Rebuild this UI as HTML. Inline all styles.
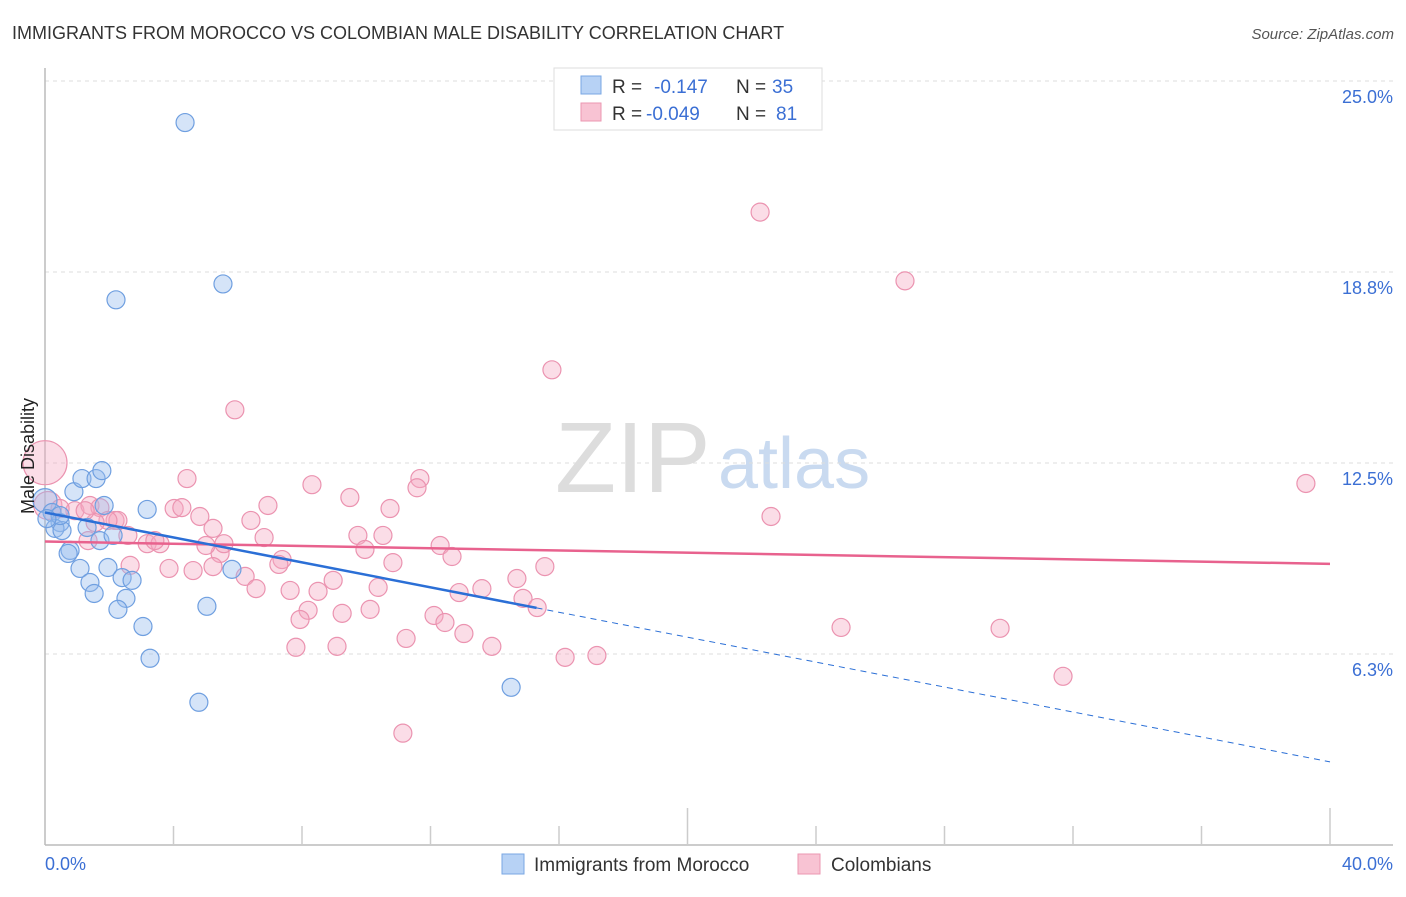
<!DOCTYPE html>
<html><head><meta charset="utf-8"><style>
body{margin:0;background:#fff;font-family:"Liberation Sans",sans-serif;}
svg text{font-family:"Liberation Sans",sans-serif;}
</style></head><body>
<svg id="chart" width="1406" height="892" viewBox="0 0 1406 892">
<text x="12" y="39" font-size="18" fill="#333">IMMIGRANTS FROM MOROCCO VS COLOMBIAN MALE DISABILITY CORRELATION CHART</text>
<text x="1394" y="39" font-size="15" fill="#555" font-style="italic" text-anchor="end">Source: ZipAtlas.com</text>
<text x="555" y="492" font-size="100" fill="#ddd" font-family="Liberation Serif">ZIP</text>
<text x="718" y="488" font-size="72" fill="#c9daf0">atlas</text>
<g id="grid"></g><g id="axes"></g><g id="pts"></g><g id="lines"></g>
<text transform="translate(34,456) rotate(-90)" font-size="18" fill="#222" text-anchor="middle">Male Disability</text>
<g>
<rect x="554" y="68" width="268" height="62" fill="#fff" stroke="#ddd"/>
<rect x="581" y="76" width="20" height="18" fill="#b7d2f5" stroke="#7aa7e3"/>
<rect x="581" y="103" width="20" height="18" fill="#f8c3d3" stroke="#eb97b2"/>
<text x="612" y="93" font-size="19" fill="#333">R = </text><text x="654" y="93" font-size="19" fill="#3b6fd4">-0.147</text>
<text x="736" y="93" font-size="19" fill="#333">N = </text><text x="772" y="93" font-size="19" fill="#3b6fd4">35</text>
<text x="612" y="120" font-size="19" fill="#333">R = </text><text x="646" y="120" font-size="19" fill="#3b6fd4">-0.049</text>
<text x="736" y="120" font-size="19" fill="#333">N = </text><text x="776" y="120" font-size="19" fill="#3b6fd4">81</text>
</g>
<g>
<rect x="502" y="854" width="22" height="20" fill="#b7d2f5" stroke="#7aa7e3"/>
<text x="534" y="871" font-size="19" fill="#333">Immigrants from Morocco</text>
<rect x="798" y="854" width="22" height="20" fill="#f8c3d3" stroke="#eb97b2"/>
<text x="831" y="871" font-size="19" fill="#333">Colombians</text>
</g>
</svg>
<script>
const yTicks=[6.25,12.5,18.75,25];
const yTickLabels=["6.3%","12.5%","18.8%","25.0%"];
const xEndLabels=["0.0%","40.0%"];
const moroccoX=[4.36,2.21,5.54,0,0.22,0.47,0.31,0.53,0.9,1.15,1.59,1.77,1.84,3.18,0.78,0.72,1.09,1.31,1.71,2.12,1.4,1.53,1.96,2.4,2.71,2.52,2.27,3.05,3.27,5.04,5.82,4.79,14.51,0.47,0.06];
const moroccoY=[23.64,17.84,18.36,11.27,10.88,10.55,10.36,10.29,11.56,11.99,11.99,12.25,11.11,10.98,9.64,9.54,9.05,10.39,9.96,10.13,8.59,8.23,9.08,8.75,8.66,8.07,7.71,7.15,6.11,7.81,9.02,4.67,5.16,10.78,10.68];
const colX=[0,0.09,0.93,1.4,1.71,2.18,2.58,2.65,2.27,1.96,1.56,1.34,1.25,0.47,4.42,4.02,4.26,4.82,5.23,5.45,5.01,5.57,3.86,4.61,5.23,6.23,6.57,6.41,6.82,6.94,5.91,8.31,9.49,11.67,11.58,10.74,10.52,9.74,9.96,10.83,7.38,7.28,7.63,8.5,8.97,8.19,7.94,7.81,9.09,9.25,10.12,10.37,12.11,12.45,11.24,13.04,13.91,12.3,12.67,12.89,13.6,14.69,15.56,14.88,15.32,16.19,17.18,11.14,15.78,22.26,26.77,22.6,24.78,29.73,31.69,39.25,3.18,3.58,3.42];
const colY=[12.51,11.11,10.94,11.11,11.04,10.62,10.13,9.15,10.62,10.62,10.55,9.96,10.94,11.01,11.99,11.01,11.04,10.75,10.36,9.54,9.8,9.86,9.05,8.98,9.11,8.79,8.39,10.62,10.06,11.11,14.24,11.79,11.37,11.99,11.69,11.01,10.13,10.13,9.67,9.24,9.34,9.18,8.33,8.3,8.66,7.68,7.38,6.47,6.5,7.58,7.71,8.43,7.51,7.28,6.76,6.92,6.5,9.8,9.44,8.26,8.39,8.72,9.11,8.07,7.77,6.14,6.2,3.66,15.55,20.71,18.46,10.75,7.12,7.09,5.52,11.83,9.86,9.86,9.96];
const moroccoTrend=[10.88,2.72]; // y at x=0 and x=40
const moroccoTrendSolidEnd=15.3;
const colTrend=[9.93,9.2];
const NS="http://www.w3.org/2000/svg";
const X0=45,X1=1330,YB=845;
function sx(v){return X0+(v/40)*(X1-X0);}
function sy(v){return YB-v*(191/6.25);}
function mk(t,a,p){const e=document.createElementNS(NS,t);for(const k in a)e.setAttribute(k,a[k]);p.appendChild(e);return e;}
const grid=document.getElementById('grid'),axes=document.getElementById('axes'),pts=document.getElementById('pts'),lines=document.getElementById('lines');
yTicks.forEach((t,i)=>{
 const l=mk('line',{x1:X0,x2:1393,y1:sy(t),y2:sy(t),stroke:'#ddd','stroke-dasharray':'4,4'},grid);
 
 
 const tx=mk('text',{x:1393,y:sy(t)+22,'font-size':18,fill:'#3b6fd4','text-anchor':'end'},axes);
 tx.textContent=yTickLabels[i];
 
 
});
const ax=mk('line',{x1:X0,x2:1393,y1:YB,y2:YB,stroke:'#bbb','stroke-width':1.5},axes);


const ay=mk('line',{x1:X0,x2:X0,y1:68,y2:YB,stroke:'#bbb','stroke-width':1.5},axes);


for(let i=1;i<=10;i++){
 const tk=mk('line',{x1:sx(i*4),x2:sx(i*4),y1:(i%5==0?808:826),y2:YB,stroke:'#ccc','stroke-width':1.5},axes);
 
 
}
[[0,'start',45],[40,'end',1393]].forEach((d,i)=>{
 const tx=mk('text',{x:d[2],y:870,'font-size':18,fill:'#3b6fd4','text-anchor':d[1]},axes);
 tx.textContent=xEndLabels[i];
 
 
});
colX.forEach((x,i)=>{
 const r=i==0?22:(i==1?14:9);
 const c=mk('circle',{cx:sx(x),cy:sy(colY[i]),r:r,fill:'rgba(246,170,195,0.4)',stroke:'#eb93b0','stroke-width':1.2},pts);
 
 
});
moroccoX.forEach((x,i)=>{
 const c=mk('circle',{cx:sx(x),cy:sy(moroccoY[i]),r:(i==3?12:9),fill:'rgba(150,188,238,0.4)',stroke:'#6f9fe0','stroke-width':1.2},pts);
 
 
});
function ty(tr,x){return tr[0]+(tr[1]-tr[0])*x/40;}
const pl=mk('line',{x1:sx(0),y1:sy(colTrend[0]),x2:sx(40),y2:sy(colTrend[1]),stroke:'#e8628e','stroke-width':2.5},lines);


const bl=mk('line',{x1:sx(0),y1:sy(moroccoTrend[0]),x2:sx(moroccoTrendSolidEnd),y2:sy(ty(moroccoTrend,moroccoTrendSolidEnd)),stroke:'#2b6fd6','stroke-width':2.5},lines);


const bd=mk('line',{x1:sx(moroccoTrendSolidEnd),y1:sy(ty(moroccoTrend,moroccoTrendSolidEnd)),x2:sx(40),y2:sy(moroccoTrend[1]),stroke:'#2b6fd6','stroke-width':1,'stroke-dasharray':'6,5'},lines);


</script>
</body></html>
